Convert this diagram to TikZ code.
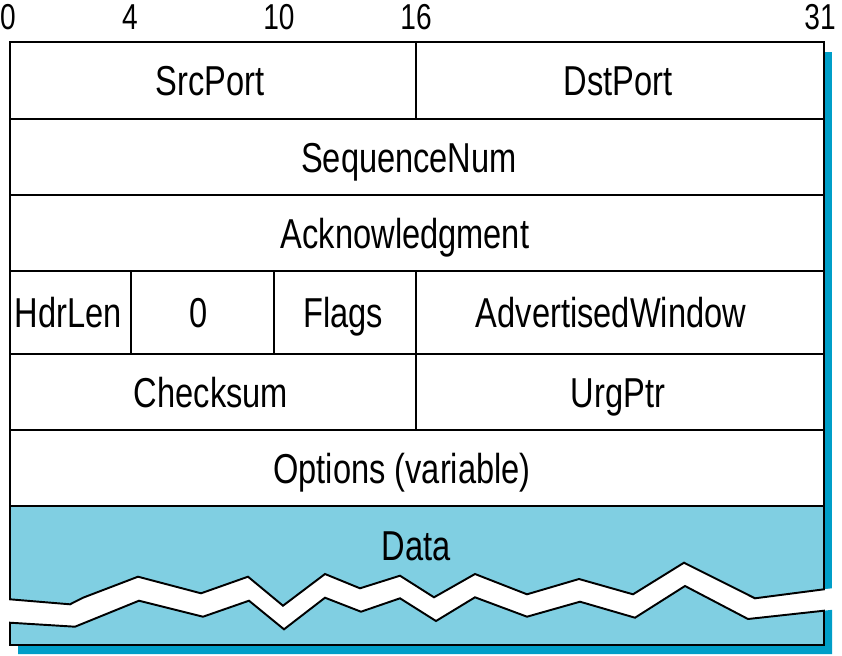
\documentclass[tikz,border=0pt]{standalone}
\usepackage{fontspec}
\setmainfont{Liberation Sans}[FakeStretch=0.78]
\usepackage{xcolor}
\definecolor{ink}{HTML}{000000}
\definecolor{datafill}{HTML}{80CFE2}
\definecolor{shadowblue}{HTML}{009EC8}

\begin{document}
\begin{tikzpicture}[x=0.02cm, y=-0.02cm, line join=miter]
  \def\XL{10}                    % left edge of the header
  \def\XR{824}                   % right edge (bit 31)
  \def\XM{416}                   % bit 16
  % the torn edge of the data block, upper and lower lip (left to right)
  \def\tearA{(10,599.3) -- (70,604.3) -- (83,597.7) -- (138,576.7) -- (201,593.3)
    -- (248,576.7) -- (283,605.7) -- (325,574) -- (360,588.3) -- (400,575.7)
    -- (434,597.3) -- (475,574) -- (527,594.3) -- (579,579) -- (633,594.3)
    -- (684,562.7) -- (755,598.3) -- (824,589.3)}
  \def\tearB{(10,622.7) -- (75,626.7) -- (139,600.7) -- (203,616.7) -- (249,600.7)
    -- (284,629.3) -- (325,597.7) -- (361,611.7) -- (400,598.3) -- (436,621)
    -- (475,597.3) -- (527,616.7) -- (580,601.7) -- (635,617.7) -- (685,586)
    -- (748,619) -- (824,610.7)}
  \useasboundingbox (0,0) rectangle (842,656);
  \tikzset{
    field/.style={anchor=base, inner sep=0pt,
                  font=\fontsize{23.8}{26}\selectfont, text=ink},
    bitnum/.style={anchor=base, inner sep=0pt,
                   font=\fontsize{20.5}{24}\selectfont, text=ink},
    rule/.style={draw=ink, line width=1.1pt}}

  % ========== the drop shadow, with the tear cut through it ==============
  \fill[shadowblue] (18,52) rectangle (832,654);
  \fill[white] (0,599.3) -- \tearA -- (842,587) -- (842,656) -- (0,656) -- cycle;
  \fill[shadowblue] (18,645) -- (\XR,645) -- (\XR,610.7) -- (832,609.8)
    -- (832,654) -- (18,654) -- cycle;

  % ========== header rows and the two data pieces ========================
  \fill[white] (\XL,42) rectangle (\XR,506);
  \fill[datafill] (\XL,506) -- \tearA -- (\XR,506) -- cycle;
  \fill[datafill] (\XL,645) -- \tearB -- (\XR,645) -- cycle;

  \draw[rule] (\XL,42) rectangle (\XR,506);
  \foreach \y in {119,195,271,354,430}
    \draw[rule] (\XL,\y) -- (\XR,\y);
  \draw[rule] (\XM,42) -- (\XM,119);
  \draw[rule] (131,271) -- (131,354);
  \draw[rule] (274,271) -- (274,354);
  \draw[rule] (\XM,271) -- (\XM,430);
  \draw[rule] (\XL,506) -- \tearA -- (\XR,506);
  \draw[rule] (\XL,645) -- \tearB -- (\XR,645) -- cycle;

  % ========== bit positions ==============================================
  \node[bitnum] (b0)  at (8,29)   {0};
  \node[bitnum] (b4)  at (130,29) {4};
  \node[bitnum] (b10) at (279,29) {10};
  \node[bitnum] (b16) at (416,29) {16};
  \node[bitnum] (b31) at (820,29) {31};

  % ========== field names ================================================
  \node[field] (srcport) at (210,95)  {SrcPort};
  \node[field] (dstport) at (618,95)  {DstPort};
  \node[field] (seqnum)  at (409,172) {SequenceNum};
  \node[field] (ack)     at (405,248) {Acknowledgment};
  \node[field] (hdrlen)  at (68,327)  {HdrLen};
  \node[field] (zero)    at (199,327) {0};
  \node[field] (flags)   at (343,327) {Flags};
  \node[field] (advwin)  at (611,327) {AdvertisedWindow};
  \node[field] (cksum)   at (211,407) {Checksum};
  \node[field] (urgptr)  at (618,407) {UrgPtr};
  \node[field] (options) at (402,483) {Options (variable)};
  \node[field] (data)    at (416,560) {Data};
\end{tikzpicture}
\end{document}
